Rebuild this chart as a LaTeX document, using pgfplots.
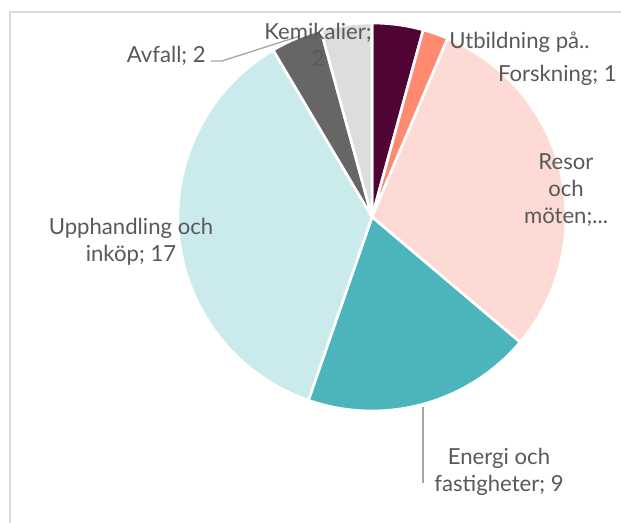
\documentclass[border=0pt]{standalone}
\usepackage{pgfplots}
\pgfplotsset{compat=1.18}
\usepackage{pgfplotstable}
\usepackage{fontspec}
\setmainfont{Lato}
\definecolor{cMaroon}{HTML}{4F0433}
\definecolor{cSalmon}{HTML}{FF8A70}
\definecolor{cPink}{HTML}{FDDAD4}
\definecolor{cTeal}{HTML}{4CB5BC}
\definecolor{cCyan}{HTML}{CBEAEC}
\definecolor{cDgray}{HTML}{666666}
\definecolor{cLgray}{HTML}{DCDDDE}
\definecolor{labelgray}{HTML}{595959}
\definecolor{leader}{HTML}{A6A6A6}
\definecolor{frame}{HTML}{D9D9D9}
\pgfplotstableread[col sep=comma]{
label,value,color
Utbildning,2,cMaroon
Forskning,1,cSalmon
Resor och moten,14,cPink
Energi och fastigheter,9,cTeal
Upphandling och inkop,17,cCyan
Avfall,2,cDgray
Kemikalier,2,cLgray
}\piedata
% total of the values
\xdef\pietotal{0}
\pgfplotstablegetrowsof{\piedata}
\pgfmathtruncatemacro\pielast{\pgfplotsretval-1}
\foreach \i in {0,...,\pielast}{%
  \pgfplotstablegetelem{\i}{value}\of\piedata
  \pgfmathsetmacro\tmp{\pietotal+\pgfplotsretval}%
  \xdef\pietotal{\tmp}%
}
% wedges, clockwise from 12 o'clock
\gdef\piewedges{}
\xdef\piecum{0}
\foreach \i in {0,...,\pielast}{%
  \pgfplotstablegetelem{\i}{value}\of\piedata
  \edef\pieval{\pgfplotsretval}%
  \pgfplotstablegetelem{\i}{color}\of\piedata
  \edef\piecol{\pgfplotsretval}%
  \pgfmathsetmacro\angA{90-\piecum/\pietotal*360}%
  \pgfmathsetmacro\angB{90-(\piecum+\pieval)/\pietotal*360}%
  \xdef\piewedges{\unexpanded\expandafter{\piewedges}%
    \noexpand\fill[\piecol,draw=white,line width=2pt,line join=round]
    (axis cs:372,306) -- ++(\angA:145.5pt) arc[start angle=\angA,end angle=\angB,radius=145.5pt] -- cycle;}%
  \pgfmathsetmacro\tmp{\piecum+\pieval}%
  \xdef\piecum{\tmp}%
}
\begin{document}
\begin{tikzpicture}
\begin{axis}[x=0.75pt,y=0.75pt,xmin=0,xmax=621,ymin=0,ymax=523,
  hide axis,clip=false,disabledatascaling]
\fill[white] (axis cs:0,0) rectangle (axis cs:621,523);
\coordinate (bl) at (axis cs:0,0);
\coordinate (tr) at (axis cs:621,523);
\draw[frame,line width=1.5pt] (axis cs:10,0) -- (axis cs:10,511) -- (axis cs:621,511);
\piewedges
% leader lines
\draw[leader,line width=1pt] (axis cs:211,462) -- (axis cs:222,462) -- (axis cs:300,487);
\draw[leader,line width=1pt] (axis cs:423,116) -- (axis cs:423,40);
% labels
\begin{scope}[every node/.style={text=labelgray,font=\fontsize{16.6}{20.3}\selectfont,inner sep=0pt}]
\node[align=center] at (axis cs:318,478) {Kemikalier;\\2};
\node[anchor=east] at (axis cs:206,467) {Avfall; 2};
\node[anchor=west] at (axis cs:449,481) {Utbildning på..};
\node[anchor=east] at (axis cs:617,448) {Forskning; 1};
\node[align=center] at (axis cs:566,333) {Resor\\och\\möten;...};
\node[align=center] at (axis cs:131,281) {Upphandling och\\inköp; 17};
\node[align=center] at (axis cs:499,51) {Energi och\\fastigheter; 9};
\end{scope}
\end{axis}
\pgfresetboundingbox
\useasboundingbox (bl) rectangle (tr);
\end{tikzpicture}
\end{document}
